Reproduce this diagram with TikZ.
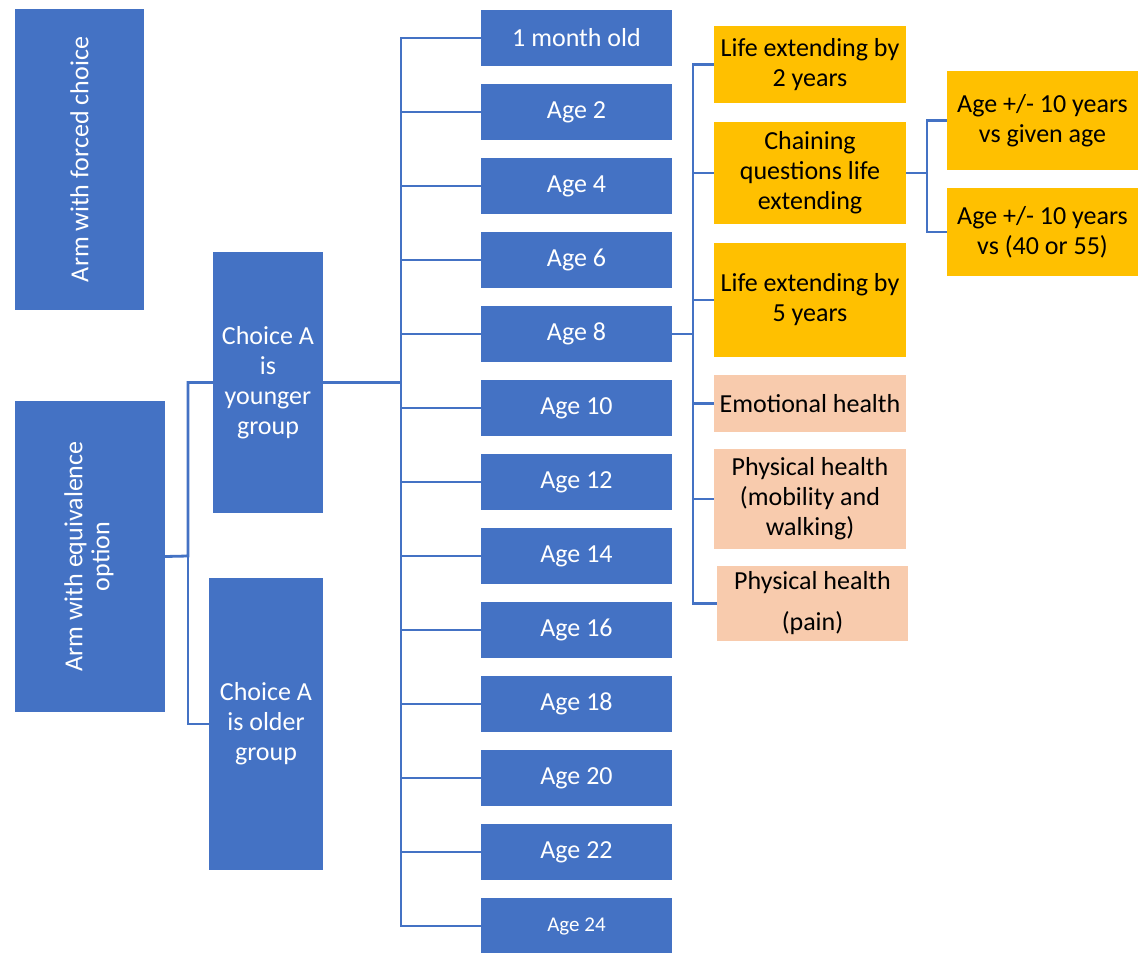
\documentclass[tikz,border=0pt]{standalone}
\usepackage{fontspec}
\setmainfont{Carlito}
\definecolor{bblue}{HTML}{4472C4}
\definecolor{gold}{HTML}{FFC000}
\definecolor{peach}{HTML}{F8CBAD}
\begin{document}
\begin{tikzpicture}[x=1pt,y=-1pt,
  box/.style={rectangle, inner sep=0pt, align=center, font=\fontsize{26}{30}\selectfont},
  bluebox/.style={box, fill=bblue, text=white},
  agebox/.style={bluebox, minimum width=191pt, minimum height=56pt},
  goldbox/.style={box, fill=gold, text=black},
  peachbox/.style={box, fill=peach, text=black},
  conn/.style={draw=bblue, line width=2.8pt}]
\useasboundingbox (0,0) rectangle (1144,953);

% left column
\node[bluebox, minimum width=129pt, minimum height=301pt] (forced) at (79.5,159.5)
  {\rotatebox{90}{Arm with forced choice}};
\node[bluebox, minimum width=150pt, minimum height=311pt] (equiv) at (90,556.5)
  {\rotatebox{90}{\begin{tabular}{@{}c@{}}Arm with equivalence\\[-3pt]option\end{tabular}}};

% second column
\node[bluebox, minimum width=110pt, minimum height=261pt] (younger) at (268,382.5)
  {Choice A\\is\\younger\\group};
\node[bluebox, minimum width=114pt, minimum height=292pt] (older) at (266,724)
  {Choice A\\is older\\group};

% age boxes
\node[agebox] (a1) at (576.5,38) {1 month old};
\node[agebox] (a2) at (576.5,112) {Age 2};
\node[agebox] (a3) at (576.5,186) {Age 4};
\node[agebox] (a4) at (576.5,260) {Age 6};
\node[agebox] (a5) at (576.5,334) {Age 8};
\node[agebox] (a6) at (576.5,408) {Age 10};
\node[agebox] (a7) at (576.5,482) {Age 12};
\node[agebox] (a8) at (576.5,556) {Age 14};
\node[agebox] (a9) at (576.5,630) {Age 16};
\node[agebox] (a10) at (576.5,704) {Age 18};
\node[agebox] (a11) at (576.5,778) {Age 20};
\node[agebox] (a12) at (576.5,852) {Age 22};
\node[agebox, font=\fontsize{21}{25}\selectfont] (a13) at (576.5,926) {Age 24};

% orange column
\node[goldbox, minimum width=192pt, minimum height=77pt] (o1) at (810,64.5)
  {Life extending by\\2 years};
\node[goldbox, minimum width=192pt, minimum height=102pt] (o2) at (810,173)
  {Chaining\\questions life\\extending};
\node[goldbox, minimum width=192pt, minimum height=114pt] (o3) at (810,300)
  {Life extending by\\5 years};
\node[peachbox, minimum width=192pt, minimum height=57pt] (o4) at (810,403.5)
  {Emotional health};
\node[peachbox, minimum width=192pt, minimum height=100pt] (o5) at (810,499)
  {Physical health\\(mobility and\\walking)};
\node[peachbox, minimum width=191pt, minimum height=75pt, font=\fontsize{26}{41}\selectfont] (o6) at (812.5,603.5)
  {Physical health\\(pain)};

% rightmost
\node[goldbox, minimum width=191pt, minimum height=99pt] (g1) at (1042.5,120.5)
  {Age +/- 10 years\\vs given age};
\node[goldbox, minimum width=191pt, minimum height=88pt] (g2) at (1042.5,232)
  {Age +/- 10 years\\vs (40 or 55)};

% connectors
\coordinate (ek) at (188,556);
\draw[conn] (equiv.east) -- (ek) |- (younger.west);
\draw[conn] (ek) |- (older.west);

\coordinate (tk) at (401,382.5);
\draw[conn] (younger.east) -- (tk);
\foreach \n in {a1,a2,a3,a4,a5,a6,a7,a8,a9,a10,a11,a12,a13}
  \draw[conn] (tk) |- (\n.west);

\coordinate (ok) at (693,334);
\draw[conn] (a5.east) -- (ok);
\foreach \n in {o1,o2,o3,o4,o5,o6}
  \draw[conn] (ok) |- (\n.west);

\coordinate (ck) at (927,173);
\draw[conn] (o2.east) -- (ck);
\draw[conn] (ck) |- (g1.west);
\draw[conn] (ck) |- (g2.west);
\end{tikzpicture}
\end{document}
